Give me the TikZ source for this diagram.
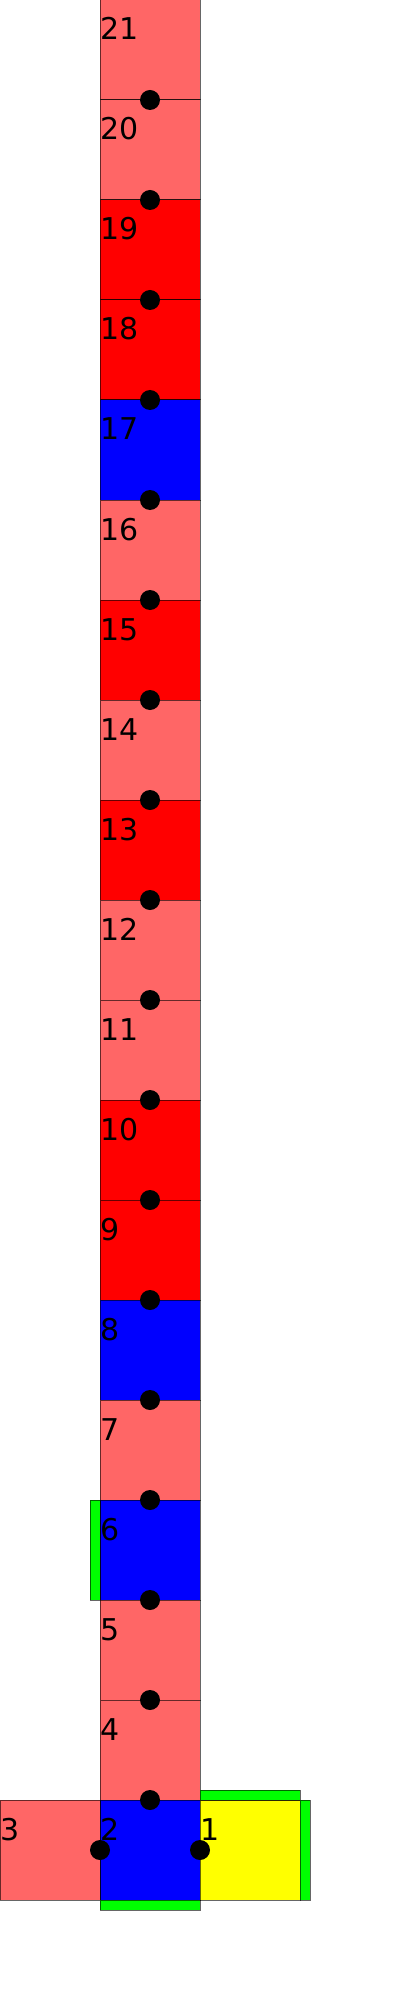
\documentclass[tikz,border=0pt]{standalone}
\usepackage{fontspec}
\setmainfont{DejaVu Sans}
\usetikzlibrary{positioning}
\definecolor{tilepink}{RGB}{255,102,102}
\definecolor{tilered}{RGB}{255,0,0}
\definecolor{tileblue}{RGB}{0,0,255}
\definecolor{tileyellow}{RGB}{255,255,0}
\definecolor{tilegreen}{RGB}{0,255,0}
\begin{document}
\begin{tikzpicture}[x=0.5pt,y=-0.5pt,
  tile/.style={draw=black,draw opacity=0.6,line width=0.5pt,minimum size=50pt,inner sep=0pt,outer sep=0pt},
  num/.style={anchor=base west,inner sep=0pt,yshift=-20pt,font=\fontsize{15}{18}\selectfont},
  bar/.style={draw=black,draw opacity=0.6,line width=0.5pt,fill=tilegreen,inner sep=0pt,outer sep=0pt},
  dot/.style={circle,fill=black,minimum size=10pt,inner sep=0pt}]
  \useasboundingbox (0,0) rectangle (400,2000);
  % column of tiles, top to bottom
  \foreach \n/\c [count=\k] in {21/tilepink,20/tilepink,19/tilered,18/tilered,17/tileblue,16/tilepink,15/tilered,14/tilepink,13/tilered,12/tilepink,11/tilepink,10/tilered,9/tilered,8/tileblue,7/tilepink,6/tileblue,5/tilepink,4/tilepink}
    \node[tile,fill=\c,label={[num]north west:\n}] (b\n) at (150,\k*100-50) {};
  \node[tile,fill=tileblue,label={[num]north west:2},below=0pt of b4] (b2) {};
  \node[tile,fill=tilepink,label={[num]north west:3},left=0pt of b2] (b3) {};
  \node[tile,fill=tileyellow,label={[num]north west:1},right=0pt of b2] (b1) {};
  % green edges
  \node[bar,minimum width=50pt,minimum height=5pt,anchor=south west] (g1) at (b1.north west) {};
  \node[bar,minimum width=5pt,minimum height=50pt,anchor=north west] (g2) at (b1.north east) {};
  \node[bar,minimum width=50pt,minimum height=5pt,anchor=north west] (g3) at (b2.south west) {};
  \node[bar,minimum width=5pt,minimum height=50pt,anchor=north east] (g4) at (b6.north west) {};
  % joints
  \foreach \n in {21,20,...,4}
    \node[dot] (d\n) at (b\n.south) {};
  \node[dot] (dl) at (b2.west) {};
  \node[dot] (dr) at (b2.east) {};
\end{tikzpicture}
\end{document}
